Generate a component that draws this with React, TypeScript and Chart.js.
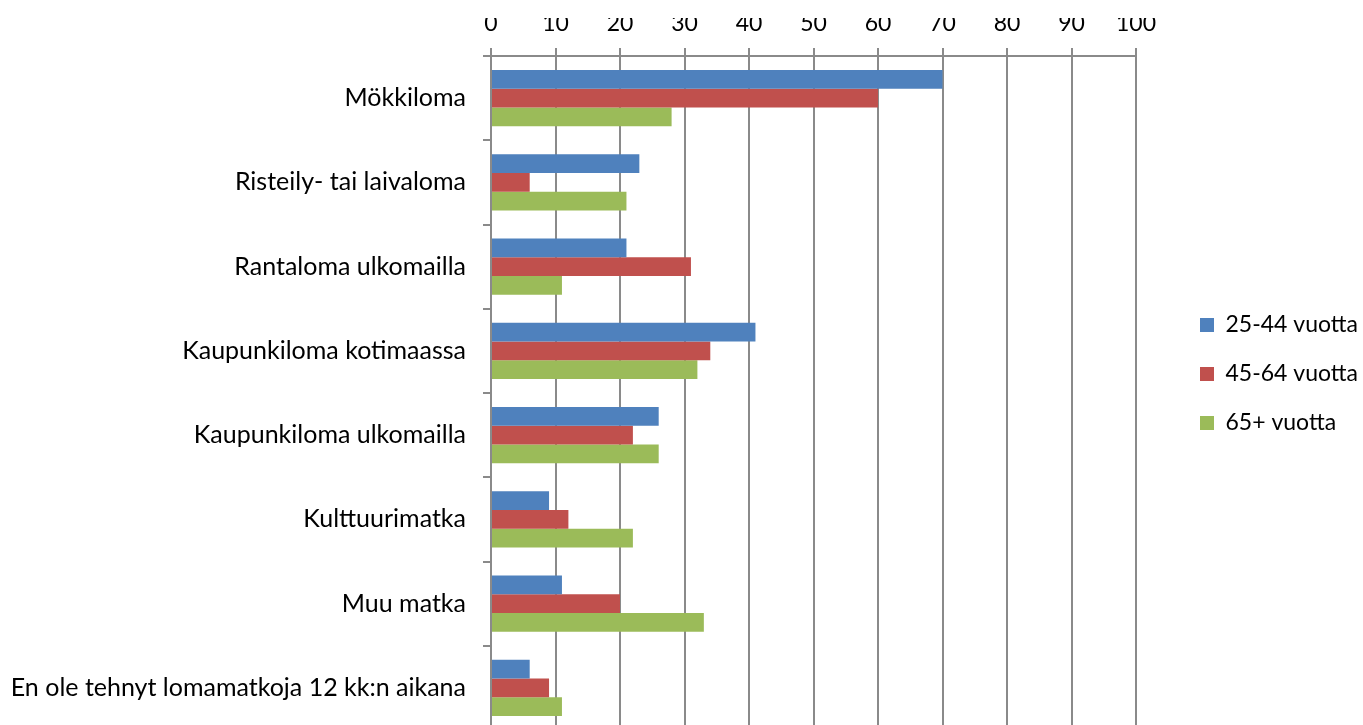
import React, { useEffect, useRef } from "react";
import { Chart, registerables } from "chart.js";

Chart.register(...registerables);

const categories = [
  "Mökkiloma",
  "Risteily- tai laivaloma",
  "Rantaloma ulkomailla",
  "Kaupunkiloma kotimaassa",
  "Kaupunkiloma ulkomailla",
  "Kulttuurimatka",
  "Muu matka",
  "En ole tehnyt lomamatkoja 12 kk:n aikana",
];
const seriesLabels = ["25-44 vuotta", "45-64 vuotta", "65+ vuotta"];
const age25to44 = [70, 23, 21, 41, 26, 9, 11, 6];
const age45to64 = [60, 6, 31, 34, 22, 12, 20, 9];
const age65plus = [28, 21, 11, 32, 26, 22, 33, 11];
const xMin = 0;
const xMax = 100;
const xStep = 10;

const COLORS = ["#4F81BD", "#C0504D", "#9BBB59"];
const W = 1363;
const H = 740;
const PAD_TOP = 18;
const PAD_BOTTOM = 10;
const CHART_LEFT = 491;
const CHART_RIGHT = 1136;
const CHART_TOP = 56;
const LEGEND_BOX_X = 1200;
const LEGEND_PAD = 26;
const FONT = "Lato";

const legendShift = {
  id: "legendShift",
  afterLayout(chart: any) {
    const l = chart.legend;
    if (!l) return;
    const dx = LEGEND_BOX_X - (l.left + LEGEND_PAD);
    l.left += dx;
    l.right += dx;
  },
};

export default function App() {
  const ref = useRef<HTMLCanvasElement | null>(null);
  useEffect(() => {
    if (!ref.current) return;
    const grid = "#8a8a8a";
    const chart = new Chart(ref.current, {
      type: "bar",
      data: {
        labels: categories,
        datasets: [age25to44, age45to64, age65plus].map((d, i) => ({
          label: seriesLabels[i],
          data: d,
          backgroundColor: COLORS[i],
          borderWidth: 0,
          barPercentage: 1,
          categoryPercentage: 0.667,
        })),
      },
      plugins: [legendShift],
      options: {
        indexAxis: "y",
        animation: false,
        responsive: false,
        maintainAspectRatio: false,
        layout: { padding: { top: PAD_TOP, bottom: PAD_BOTTOM, left: 0, right: 0 } },
        plugins: {
          tooltip: { enabled: false },
          legend: {
            position: "right",
            align: "center",
            labels: {
              font: { family: FONT, size: 23 },
              color: "#000",
              boxWidth: 14,
              boxHeight: 14,
              padding: LEGEND_PAD,
            },
          },
        },
        scales: {
          x: {
            position: "top",
            min: xMin,
            max: xMax,
            ticks: {
              stepSize: xStep,
              color: "#000",
              font: { family: FONT, size: 23 },
              padding: 11,
            },
            grid: { color: grid, lineWidth: 2, tickLength: 8 },
            border: { color: grid, width: 2 },
            afterFit: (scale: any) => {
              scale.height = CHART_TOP - PAD_TOP;
              scale.paddingRight = W - CHART_RIGHT;
            },
          },
          y: {
            ticks: {
              color: "#000",
              font: { family: FONT, size: 25 },
              padding: 17,
              autoSkip: false,
            },
            grid: {
              color: grid,
              lineWidth: 2,
              drawOnChartArea: false,
              drawTicks: true,
              tickLength: 8,
              offset: true,
            },
            border: { color: grid, width: 2 },
            afterFit: (scale: any) => {
              scale.width = CHART_LEFT;
              scale.paddingTop = 0;
              scale.paddingBottom = 0;
            },
          },
        },
      },
    });
    return () => chart.destroy();
  }, []);
  return (
    <div
      style={{
        position: "fixed",
        left: 0,
        top: 0,
        width: W,
        height: 725,
        overflow: "hidden",
        background: "#fff",
      }}
    >
      <canvas ref={ref} width={W} height={H} style={{ width: W, height: H, display: "block" }} />
    </div>
  );
}
